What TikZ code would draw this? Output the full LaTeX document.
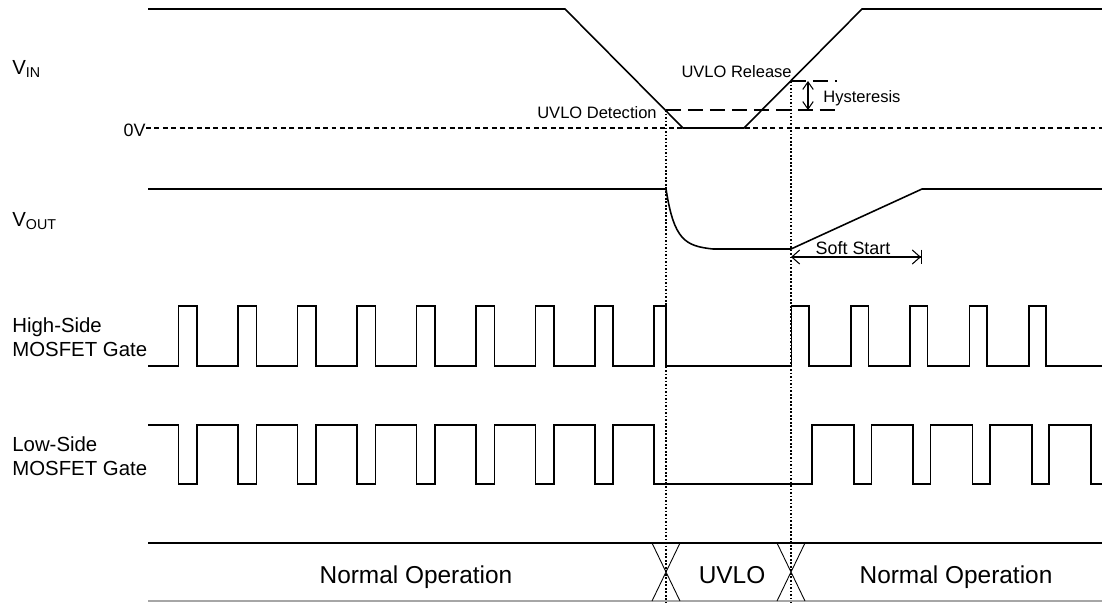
\documentclass[tikz,border=0pt]{standalone}
\usepackage{fontspec}
\setmainfont{Liberation Sans}
\usetikzlibrary{arrows.meta}

\begin{document}
\begin{tikzpicture}[x=0.02cm, y=-0.02cm,
    wave/.style={line width=0.9pt, line join=miter},
    guide/.style={line width=0.6pt, dash pattern=on 1pt off 1pt},
    level/.style={line width=0.6pt, dash pattern=on 8.5pt off 4pt},
    zero/.style={line width=0.6pt, dash pattern=on 2.8pt off 2pt},
    sig/.style={align=left, inner sep=0pt, font=\fontsize{11.6}{13.6}\selectfont},
    note/.style={inner sep=0pt, font=\fontsize{9.4}{11}\selectfont},
    phase/.style={anchor=base, inner sep=0pt, font=\fontsize{13.9}{16}\selectfont}
]
\useasboundingbox (0,0) rectangle (1102,603);

% Key points
\coordinate (det) at (666,110);
\coordinate (rel) at (791,81);
\coordinate (bot) at (0,603);

% Signal names
\node[sig, anchor=base west] (vin) at (12,74) {V\textsubscript{IN}};
\node[sig, anchor=base west] (vout) at (12,226) {V\textsubscript{OUT}};
\node[sig, anchor=north west] (hsgate) at (12,317) {High-Side\\MOSFET Gate};
\node[sig, anchor=north west] (lsgate) at (12,436) {Low-Side\\MOSFET Gate};
\node[note, anchor=base east, font=\fontsize{10.2}{12}\selectfont] (zerov) at (146,136) {0V};

% VIN
\draw[wave] (148,9) -- (565,9) -- (683,128) -- (744,128) -- (862,9) -- (1102,9);
\draw[zero] (zerov.east |- 0,128) -- (1102,128);
\draw[level] (det) -- (837,110);
\draw[level] (rel) -- (837,81);
\node[note, anchor=base east] (detlbl) at (657,118) {UVLO Detection};
\node[note, anchor=base east] (rellbl) at (792,77) {UVLO Release};
\coordinate (hy0) at (808,81);
\coordinate (hy1) at (808,110);
\draw[line width=0.6pt, {Straight Barb[length=4.3pt,width=6pt]}-{Straight Barb[length=4.3pt,width=6pt]}] (hy0) -- (hy1);
\node[note, anchor=base west] (hyslbl) at (823,102) {Hysteresis};

% VOUT
\draw[wave] (148,189) -- (666,189) .. controls (674,240) and (685,246) .. (713,249)
    -- (791,249) -- (922,189) -- (1102,189);
\coordinate (ss0) at (791,257);
\coordinate (ss1) at (922,257);
\draw[line width=0.6pt, {Straight Barb[length=4.5pt,width=8pt]}-{Straight Barb[length=4.5pt,width=8pt] Bar[width=8.5pt]}] (ss0) -- (ss1);
\node[note, anchor=base, font=\fontsize{10.2}{12}\selectfont] (sslbl) at (853,254) {Soft Start};

% High-side gate
\draw[wave] (148,366) foreach \k in {0,...,7} {
    -- ({178.6+59.45*\k},366) -- ++(0,-60) -- ++(18.5,0) -- ++(0,60)}
    -- (654.2,366) -- ++(0,-60) -- (666,306) -- (666,366) -- (791.5,366)
    foreach \k in {0,...,4} {
    -- ({791.5+59.3*\k},366) -- ++(0,-60) -- ++(17.5,0) -- ++(0,60)}
    -- (1102,366);

% Low-side gate
\draw[wave] (148,425) foreach \k in {0,...,7} {
    -- ({178.6+59.45*\k},425) -- ++(0,59) -- ++(18.5,0) -- ++(0,-59)}
    -- (654.2,425) -- ++(0,59) -- (812,484)
    foreach \k in {0,...,4} {
    -- ({812+59.3*\k},484) -- ++(0,-59) -- ++(41.8,0) -- ++(0,59)}
    -- (1102,484);

% Guides
\draw[guide] (det) -- (det |- bot);
\draw[guide] (rel) -- (rel |- bot);

% Operating states
\draw[wave] (148,543) -- (1102,543);
\draw[wave, black!35] (148,601) -- (1102,601);
\draw[line width=0.5pt] (652,543) -- (680,601) (680,543) -- (652,601);
\draw[line width=0.5pt] (777,543) -- (805,601) (805,543) -- (777,601);
\node[phase] (normal1) at (416,583) {Normal Operation};
\node[phase] (uvlo) at (732,583) {UVLO};
\node[phase] (normal2) at (956,583) {Normal Operation};
\end{tikzpicture}
\end{document}
